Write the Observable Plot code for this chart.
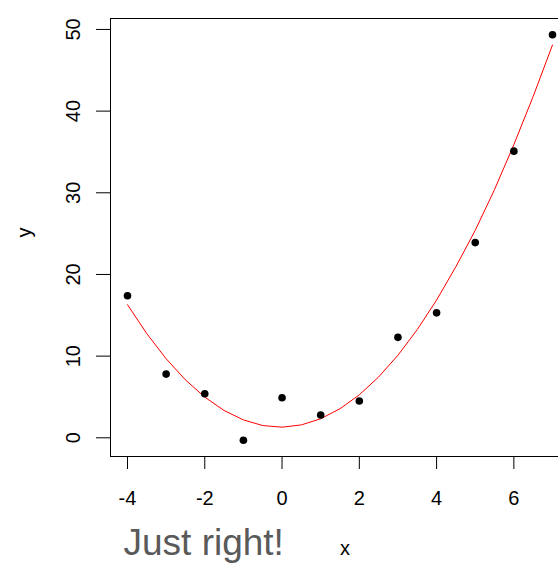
<!DOCTYPE html>
<html>
<head>
<meta charset="utf-8">
<script src="https://cdn.jsdelivr.net/npm/d3@7"></script>
<script src="https://cdn.jsdelivr.net/npm/@observablehq/plot@0.6"></script>
<style>
  html, body { margin: 0; padding: 0; background: #fff; overflow: hidden; }
  #chart { width: 558px; height: 564px; overflow: hidden; }
  #chart svg { max-width: none !important; }
</style>
</head>
<body>
<div id="chart"></div>
<script>
// Observed points
const xs = [-4, -3, -2, -1, 0, 1, 2, 3, 4, 5, 6, 7];
const ys = [17.4, 7.8, 5.4, -0.3, 4.9, 2.8, 4.5, 12.3, 15.3, 23.9, 35.1, 49.35];

// Fitted curve
const curveX = [-4, -3.5, -3, -2.5, -2, -1.5, -1, -0.5, 0, 0.5, 1, 1.5, 2, 2.5, 3, 3.5, 4, 4.5, 5, 5.5, 6, 6.5, 7];
const curveY = [16.3, 12.75, 9.68, 7.09, 4.98, 3.34, 2.19, 1.5, 1.3, 1.58, 2.33, 3.56, 5.26, 7.45, 10.11, 13.25, 16.86, 20.96, 25.4, 30.4, 35.9, 41.8, 48.1];

const xTicks = [-4, -2, 0, 2, 4, 6];
const yTicks = [0, 10, 20, 30, 40, 50];
const xLabel = "x";
const yLabel = "y";
const annotation = "Just right!";

const points = xs.map((x, i) => ({x, y: ys[i]}));
const curve = curveX.map((x, i) => ({x, y: curveY[i]}));

const font = "'Liberation Sans', Arial, Helvetica, sans-serif";

const chart = Plot.plot({
  width: 570,
  height: 564,
  marginLeft: 110,
  marginRight: 1,
  marginTop: 18,
  marginBottom: 108,
  style: {fontFamily: font, background: "#fff", color: "#000", maxWidth: "none"},
  x: {domain: [-4.44, 7.44]},
  y: {domain: [-2.29, 51.34]},
  marks: [
    Plot.frame({stroke: "#000", strokeWidth: 1}),
    Plot.axisX({ticks: xTicks, tickSize: 13, tickPadding: 21, fontSize: 20, label: null, stroke: "#000", strokeOpacity: 1, tickFormat: d => String(d)}),
    Plot.axisY({ticks: yTicks, tickSize: 14, label: null, text: null, stroke: "#000", strokeOpacity: 1}),
    Plot.text(yTicks, {y: d => d, frameAnchor: "left", dx: -37, rotate: -90, fontSize: 20, text: d => String(d), textAnchor: "middle", lineAnchor: "middle"}),
    Plot.text([xLabel], {frameAnchor: "bottom", dy: 92, fontSize: 20, text: d => d, lineAnchor: "middle", dx: 5}),
    Plot.text([yLabel], {frameAnchor: "left", dx: -86, rotate: -90, fontSize: 20, text: d => d, lineAnchor: "middle"}),
    Plot.text([annotation], {frameAnchor: "bottom-left", dx: 13, dy: 87, fontSize: 37, text: d => d, textAnchor: "start", lineAnchor: "middle", fill: "#5a5a5a"}),
    Plot.line(curve, {x: "x", y: "y", stroke: "red", strokeWidth: 1}),
    Plot.dot(points, {x: "x", y: "y", r: 3.8, fill: "#000", stroke: "none"})
  ]
});
document.getElementById("chart").appendChild(chart);
</script>
</body>
</html>
